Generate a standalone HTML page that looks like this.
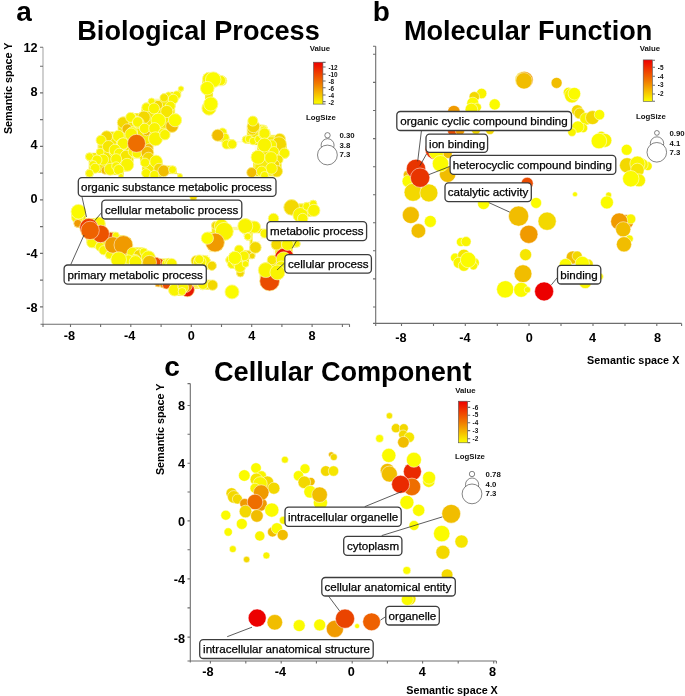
<!DOCTYPE html>
<html><head><meta charset="utf-8"><style>
html,body{margin:0;padding:0;background:#fff;width:685px;height:696px;overflow:hidden}
svg{display:block;font-family:"Liberation Sans",sans-serif;will-change:transform}
.t{font-weight:bold;font-size:27.1px;fill:#000}
.pl{font-weight:bold;font-size:28px;fill:#000}
.ax{stroke:#6e6e6e;stroke-width:1.1;fill:none}
.axl{stroke:#c4c4c4;stroke-width:1.6;fill:none}
.tk{font-weight:bold;font-size:12.7px;fill:#000}
.al{font-weight:bold;font-size:10.8px;fill:#000}
.lg{font-weight:bold;font-size:7.8px;fill:#111}
.cb{font-weight:bold;font-size:6.4px;fill:#111}
.lb rect{fill:#fff;stroke:#3c3c3c;stroke-width:1.3}
.lb text{font-size:11.6px;fill:#000;stroke:#000;stroke-width:0.25px}
.ld{stroke:#333;stroke-width:0.8;fill:none}
.bub circle{stroke:#fff;stroke-width:0.6;stroke-opacity:0.85}
</style></head><body>
<svg width="685" height="696" viewBox="0 0 685 696">
<defs>
<linearGradient id="cg" x1="0" y1="0" x2="0" y2="1">
<stop offset="0" stop-color="#ee0000"/>
<stop offset="0.5" stop-color="#f07800"/>
<stop offset="1" stop-color="#fbff00"/>
</linearGradient>
<filter id="cl" x="-5%" y="-5%" width="110%" height="110%">
<feMorphology in="SourceAlpha" operator="dilate" radius="1.5" result="d"/>
<feMorphology in="d" operator="erode" radius="1.5" result="e"/>
<feFlood flood-color="#f6ea00"/>
<feComposite operator="in" in2="e"/>
</filter>
</defs>

<!-- ============ PANEL A ============ -->
<text class="pl" x="16.2" y="20.7">a</text>
<text class="t" x="77.3" y="40.1">Biological Process</text>
<text class="al" transform="translate(12.4,88.3) rotate(-90)" text-anchor="middle">Semantic space Y</text>
<g id="axA">
<line class="axl" x1="43" y1="47.3" x2="43" y2="325"/>
<path class="ax" d="M40,47.3H43 M40,66.2H43 M40,92.9H43 M40,119.6H43 M40,146.4H43 M40,173.1H43 M40,199.9H43 M40,226.6H43 M40,253.4H43 M40,280.1H43 M40,306.9H43"/>
<path class="ax" d="M40.5,324.3H349.5 M43,324.3V327 M70.5,324.3V327 M100.6,324.3V327 M130.8,324.3V327 M161.1,324.3V327 M191.3,324.3V327 M221.5,324.3V327 M251.7,324.3V327 M281.9,324.3V327 M312.1,324.3V327 M342.4,324.3V327 M349.5,324.3V327"/>
</g>
<g class="tk" text-anchor="end">
<text x="37.6" y="52.4">12</text>
<text x="37.6" y="95.8">8</text>
<text x="37.6" y="149">4</text>
<text x="37.6" y="203">0</text>
<text x="37.6" y="257.8">-4</text>
<text x="37.6" y="312.2">-8</text>
</g>
<g class="tk" text-anchor="middle">
<text x="69.3" y="340">-8</text>
<text x="129.6" y="340">-4</text>
<text x="191.3" y="340">0</text>
<text x="251.7" y="340">4</text>
<text x="312.1" y="340">8</text>
</g>
<!-- legend A -->
<text class="lg" x="309.7" y="51">Value</text>
<rect x="313.5" y="62.2" width="9.4" height="41.9" fill="url(#cg)" stroke="#555" stroke-width="0.6"/>
<path class="ax" stroke-width="0.5" d="M322.9,62.4H325.6 M322.9,67H325.6 M322.9,74.1H325.6 M322.9,81H325.6 M322.9,87.8H325.6 M322.9,95H325.6 M322.9,101.6H325.6 M322.9,104H325.6"/>
<g class="cb">
<text x="328.4" y="69.7">-12</text>
<text x="328.4" y="76.7">-10</text>
<text x="328.4" y="83.8">-8</text>
<text x="328.4" y="90.7">-6</text>
<text x="328.4" y="97.9">-4</text>
<text x="328.4" y="104.7">-2</text>
</g>
<text class="lg" x="305.9" y="120.3">LogSize</text>
<g fill="#fff" stroke="#333" stroke-width="0.6">
<circle cx="327.5" cy="135.3" r="2.7"/>
<circle cx="327.6" cy="145.2" r="6.5"/>
<circle cx="327.4" cy="155" r="9.9"/>
</g>
<g class="lg">
<text x="339.5" y="138.4">0.30</text>
<text x="339.5" y="147.8">3.8</text>
<text x="339.5" y="157.1">7.3</text>
</g>

<g filter="url(#cl)"><use href="#bubA"/></g>
<g class="bub" id="bubA">
<circle cx="181.0" cy="88.7" r="2.7" fill="#f9f400"/>
<circle cx="176.7" cy="95.1" r="4.2" fill="#f9f400"/>
<circle cx="168.5" cy="95.1" r="3.2" fill="#f9f400"/>
<circle cx="173.2" cy="99.2" r="5.0" fill="#f9f400"/>
<circle cx="164.1" cy="97.8" r="4.2" fill="#f6e600"/>
<circle cx="151.6" cy="101.5" r="3.5" fill="#f9f400"/>
<circle cx="158.0" cy="105.0" r="4.6" fill="#f3d800"/>
<circle cx="170.3" cy="106.2" r="5.0" fill="#f9f400"/>
<circle cx="146.4" cy="107.4" r="4.6" fill="#f9f400"/>
<circle cx="154.0" cy="108.5" r="5.5" fill="#f9f400"/>
<circle cx="166.8" cy="111.5" r="6.1" fill="#f6e600"/>
<circle cx="144.0" cy="117.3" r="6.3" fill="#f3d800"/>
<circle cx="131.8" cy="117.3" r="4.6" fill="#f9f400"/>
<circle cx="172.0" cy="126.1" r="6.3" fill="#f1bd00"/>
<circle cx="175.0" cy="120.2" r="6.6" fill="#fbfb00"/>
<circle cx="158.3" cy="120.5" r="7.3" fill="#fbfb00"/>
<circle cx="138.2" cy="122.6" r="5.8" fill="#f9f400"/>
<circle cx="123.1" cy="122.6" r="5.8" fill="#f3d800"/>
<circle cx="130.7" cy="117.4" r="5.0" fill="#f9f400"/>
<circle cx="137.7" cy="122.0" r="5.2" fill="#f9f400"/>
<circle cx="127.2" cy="129.0" r="5.2" fill="#f1bd00"/>
<circle cx="146.4" cy="131.9" r="4.0" fill="#f1bd00"/>
<circle cx="144.6" cy="128.4" r="5.2" fill="#f9f400"/>
<circle cx="154.5" cy="128.4" r="5.8" fill="#f9f400"/>
<circle cx="163.3" cy="133.1" r="5.0" fill="#f9f400"/>
<circle cx="132.3" cy="131.9" r="5.2" fill="#f9f400"/>
<circle cx="131.2" cy="134.3" r="6.3" fill="#f9f400"/>
<circle cx="106.7" cy="136.6" r="5.8" fill="#f3d800"/>
<circle cx="101.1" cy="140.2" r="5.0" fill="#f9f400"/>
<circle cx="118.4" cy="136.1" r="5.8" fill="#f9f400"/>
<circle cx="122.2" cy="144.2" r="6.0" fill="#f9f400"/>
<circle cx="123.1" cy="143.6" r="5.8" fill="#f9f400"/>
<circle cx="108.5" cy="146.6" r="6.1" fill="#f6e600"/>
<circle cx="100.1" cy="152.2" r="4.0" fill="#f9f400"/>
<circle cx="114.2" cy="152.2" r="5.0" fill="#f9f400"/>
<circle cx="114.9" cy="150.0" r="5.8" fill="#f9f400"/>
<circle cx="119.3" cy="153.4" r="5.2" fill="#f9f400"/>
<circle cx="126.2" cy="156.2" r="6.0" fill="#f6e600"/>
<circle cx="103.1" cy="159.7" r="5.5" fill="#f9f400"/>
<circle cx="116.2" cy="159.2" r="5.5" fill="#f9f400"/>
<circle cx="127.2" cy="164.8" r="6.5" fill="#f9f400"/>
<circle cx="89.5" cy="156.7" r="4.0" fill="#f9f400"/>
<circle cx="97.0" cy="160.0" r="5.0" fill="#f9f400"/>
<circle cx="93.0" cy="164.5" r="4.0" fill="#f9f400"/>
<circle cx="95.1" cy="168.3" r="5.0" fill="#f9f400"/>
<circle cx="89.5" cy="173.3" r="4.0" fill="#f9f400"/>
<circle cx="105.1" cy="170.3" r="4.0" fill="#f1bd00"/>
<circle cx="110.2" cy="169.3" r="6.0" fill="#f9f400"/>
<circle cx="116.2" cy="166.3" r="4.5" fill="#f9f400"/>
<circle cx="118.8" cy="169.7" r="5.2" fill="#f9f400"/>
<circle cx="134.3" cy="153.2" r="4.5" fill="#f9f400"/>
<circle cx="133.4" cy="151.6" r="5.2" fill="#f9f400"/>
<circle cx="136.9" cy="153.4" r="4.8" fill="#f9f400"/>
<circle cx="148.7" cy="148.2" r="4.5" fill="#f1bd00"/>
<circle cx="147.4" cy="152.8" r="6.3" fill="#f1bd00"/>
<circle cx="148.5" cy="158.0" r="5.8" fill="#f3d800"/>
<circle cx="145.0" cy="162.7" r="4.6" fill="#f9f400"/>
<circle cx="155.5" cy="138.8" r="7.0" fill="#f9f400"/>
<circle cx="164.9" cy="134.7" r="5.2" fill="#f9f400"/>
<circle cx="156.1" cy="161.5" r="6.3" fill="#f9f400"/>
<circle cx="159.0" cy="168.5" r="5.2" fill="#f3d800"/>
<circle cx="163.7" cy="170.9" r="5.8" fill="#f1bd00"/>
<circle cx="172.5" cy="169.7" r="4.0" fill="#f9f400"/>
<circle cx="146.2" cy="173.2" r="4.6" fill="#f9f400"/>
<circle cx="154.4" cy="175.0" r="4.6" fill="#f9f400"/>
<circle cx="180.0" cy="176.0" r="2.5" fill="#f9f400"/>
<circle cx="121.0" cy="176.0" r="2.5" fill="#f9f400"/>
<circle cx="136.5" cy="143.3" r="9.0" fill="#ee6e00"/>
<circle cx="209.0" cy="78.8" r="6.5" fill="#f9f400"/>
<circle cx="221.8" cy="80.8" r="5.0" fill="#f9f400"/>
<circle cx="220.5" cy="80.5" r="5.1" fill="#f9f400"/>
<circle cx="213.2" cy="79.7" r="7.8" fill="#fbfb00"/>
<circle cx="207.3" cy="88.2" r="6.8" fill="#fbfb00"/>
<circle cx="209.0" cy="108.1" r="7.1" fill="#f9f400"/>
<circle cx="210.8" cy="104.0" r="7.1" fill="#fbfb00"/>
<circle cx="252.3" cy="129.9" r="5.2" fill="#f3d800"/>
<circle cx="253.4" cy="126.4" r="6.3" fill="#f3d800"/>
<circle cx="252.8" cy="121.1" r="5.0" fill="#f9f400"/>
<circle cx="222.5" cy="132.3" r="4.3" fill="#f9f400"/>
<circle cx="224.9" cy="137.5" r="4.3" fill="#f9f400"/>
<circle cx="217.8" cy="135.3" r="6.0" fill="#f1bd00"/>
<circle cx="226.6" cy="144.5" r="4.6" fill="#f9f400"/>
<circle cx="232.2" cy="144.2" r="4.6" fill="#f9f400"/>
<circle cx="246.0" cy="139.6" r="3.8" fill="#f9f400"/>
<circle cx="249.0" cy="139.0" r="3.8" fill="#f9f400"/>
<circle cx="253.0" cy="141.1" r="3.8" fill="#f9f400"/>
<circle cx="258.7" cy="139.2" r="4.0" fill="#f9f400"/>
<circle cx="263.6" cy="128.9" r="4.0" fill="#f9f400"/>
<circle cx="264.2" cy="133.6" r="6.1" fill="#f9f400"/>
<circle cx="263.9" cy="129.9" r="4.0" fill="#f9f400"/>
<circle cx="264.5" cy="133.4" r="5.5" fill="#f9f400"/>
<circle cx="279.7" cy="139.2" r="5.8" fill="#f3d800"/>
<circle cx="279.0" cy="144.3" r="7.5" fill="#f3d800"/>
<circle cx="271.5" cy="145.0" r="5.2" fill="#f9f400"/>
<circle cx="264.5" cy="145.0" r="7.0" fill="#f9f400"/>
<circle cx="284.4" cy="153.2" r="5.2" fill="#f9f400"/>
<circle cx="273.9" cy="151.5" r="5.0" fill="#f9f400"/>
<circle cx="278.5" cy="159.6" r="4.6" fill="#f6e600"/>
<circle cx="275.0" cy="164.3" r="4.6" fill="#f3d800"/>
<circle cx="258.1" cy="157.3" r="7.0" fill="#f9f400"/>
<circle cx="271.0" cy="157.9" r="6.3" fill="#f9f400"/>
<circle cx="276.8" cy="171.3" r="5.8" fill="#f3d800"/>
<circle cx="271.5" cy="168.4" r="5.8" fill="#f9f400"/>
<circle cx="261.6" cy="171.3" r="5.2" fill="#f9f400"/>
<circle cx="264.5" cy="175.4" r="4.0" fill="#f9f400"/>
<circle cx="251.7" cy="172.5" r="5.0" fill="#f1bd00"/>
<circle cx="77.3" cy="217.5" r="5.8" fill="#f9f400"/>
<circle cx="77.8" cy="223.4" r="4.0" fill="#f09a00"/>
<circle cx="78.4" cy="211.7" r="7.3" fill="#fbfb00"/>
<circle cx="98.9" cy="223.4" r="6.3" fill="#f9f400"/>
<circle cx="91.9" cy="242.6" r="5.2" fill="#f9f400"/>
<circle cx="100.0" cy="246.7" r="4.6" fill="#f9f400"/>
<circle cx="88.9" cy="227.5" r="9.2" fill="#ec3c00"/>
<circle cx="110.5" cy="236.2" r="4.0" fill="#ea4c00"/>
<circle cx="100.6" cy="233.9" r="8.8" fill="#ec5200"/>
<circle cx="90.1" cy="230.4" r="9.2" fill="#ee6200"/>
<circle cx="115.8" cy="235.6" r="3.5" fill="#f9f400"/>
<circle cx="103.5" cy="250.2" r="4.6" fill="#f9f400"/>
<circle cx="109.4" cy="254.9" r="4.0" fill="#f9f400"/>
<circle cx="112.9" cy="245.0" r="8.2" fill="#f09a00"/>
<circle cx="123.4" cy="245.0" r="9.4" fill="#f09a00"/>
<circle cx="140.9" cy="252.6" r="5.0" fill="#f9f400"/>
<circle cx="132.7" cy="253.1" r="5.8" fill="#f9f400"/>
<circle cx="139.0" cy="254.9" r="5.2" fill="#f3d800"/>
<circle cx="143.7" cy="251.9" r="4.0" fill="#f9f400"/>
<circle cx="135.1" cy="259.6" r="5.2" fill="#f9f400"/>
<circle cx="128.5" cy="259.5" r="4.6" fill="#f9f400"/>
<circle cx="135.5" cy="261.9" r="6.3" fill="#f9f400"/>
<circle cx="118.7" cy="259.6" r="7.8" fill="#f9f400"/>
<circle cx="148.4" cy="257.8" r="7.0" fill="#f9f400"/>
<circle cx="159.5" cy="263.0" r="4.6" fill="#ea4c00"/>
<circle cx="155.8" cy="262.3" r="5.0" fill="#ea4c00"/>
<circle cx="165.9" cy="263.6" r="4.0" fill="#f9f400"/>
<circle cx="168.7" cy="262.3" r="4.0" fill="#f9f400"/>
<circle cx="171.7" cy="263.6" r="5.2" fill="#f9f400"/>
<circle cx="149.5" cy="262.4" r="7.0" fill="#f1bd00"/>
<circle cx="158.2" cy="283.4" r="3.5" fill="#f09a00"/>
<circle cx="163.5" cy="284.0" r="4.0" fill="#f09a00"/>
<circle cx="166.4" cy="285.1" r="4.0" fill="#ea4c00"/>
<circle cx="174.6" cy="289.9" r="6.1" fill="#f9f400"/>
<circle cx="187.4" cy="289.8" r="7.0" fill="#e81800"/>
<circle cx="185.0" cy="285.1" r="7.5" fill="#f09a00"/>
<circle cx="183.4" cy="287.6" r="5.2" fill="#f9f400"/>
<circle cx="182.1" cy="291.5" r="4.0" fill="#f9f400"/>
<circle cx="196.7" cy="262.3" r="4.6" fill="#f9f400"/>
<circle cx="203.7" cy="262.3" r="7.0" fill="#f9f400"/>
<circle cx="211.9" cy="265.8" r="4.6" fill="#f3d800"/>
<circle cx="196.2" cy="260.7" r="5.2" fill="#f3d800"/>
<circle cx="199.7" cy="261.9" r="6.3" fill="#f9f400"/>
<circle cx="202.7" cy="285.2" r="4.6" fill="#f9f400"/>
<circle cx="203.1" cy="283.9" r="5.5" fill="#f9f400"/>
<circle cx="212.5" cy="285.1" r="5.2" fill="#f3d800"/>
<circle cx="193.4" cy="197.5" r="3.5" fill="#f3d800"/>
<circle cx="215.5" cy="225.5" r="4.0" fill="#f3d800"/>
<circle cx="221.4" cy="226.1" r="7.0" fill="#f9f400"/>
<circle cx="224.3" cy="231.4" r="9.0" fill="#f9f400"/>
<circle cx="215.0" cy="242.5" r="9.4" fill="#f09a00"/>
<circle cx="207.4" cy="238.2" r="6.1" fill="#fbfb00"/>
<circle cx="254.5" cy="227.1" r="6.0" fill="#f9f400"/>
<circle cx="245.3" cy="226.1" r="7.5" fill="#f9f400"/>
<circle cx="248.4" cy="236.4" r="4.0" fill="#f9f400"/>
<circle cx="247.7" cy="236.6" r="3.5" fill="#f9f400"/>
<circle cx="255.4" cy="247.5" r="5.8" fill="#f3d800"/>
<circle cx="248.1" cy="254.8" r="4.2" fill="#f3d800"/>
<circle cx="252.2" cy="255.9" r="3.0" fill="#f3d800"/>
<circle cx="240.4" cy="273.2" r="3.8" fill="#f3d800"/>
<circle cx="239.0" cy="249.7" r="4.6" fill="#f9f400"/>
<circle cx="229.7" cy="260.0" r="4.0" fill="#f9f400"/>
<circle cx="232.0" cy="264.0" r="4.5" fill="#f9f400"/>
<circle cx="244.0" cy="256.0" r="5.0" fill="#f9f400"/>
<circle cx="237.0" cy="262.0" r="5.5" fill="#f9f400"/>
<circle cx="240.0" cy="267.0" r="5.5" fill="#f9f400"/>
<circle cx="245.5" cy="264.0" r="3.3" fill="#f9f400"/>
<circle cx="234.9" cy="257.9" r="6.6" fill="#fbfb00"/>
<circle cx="199.2" cy="259.4" r="4.5" fill="#f9f400"/>
<circle cx="232.0" cy="291.9" r="7.0" fill="#fbfb00"/>
<circle cx="291.6" cy="207.4" r="7.8" fill="#f3d800"/>
<circle cx="300.4" cy="215.0" r="7.5" fill="#f9f400"/>
<circle cx="306.8" cy="206.3" r="4.0" fill="#f9f400"/>
<circle cx="313.2" cy="203.9" r="3.8" fill="#f9f400"/>
<circle cx="313.8" cy="210.4" r="6.1" fill="#f9f400"/>
<circle cx="273.5" cy="218.5" r="5.2" fill="#f9f400"/>
<circle cx="302.7" cy="218.5" r="5.2" fill="#f9f400"/>
<circle cx="264.7" cy="233.5" r="4.5" fill="#f9f400"/>
<circle cx="284.4" cy="257.7" r="9.6" fill="#e81800"/>
<circle cx="276.6" cy="244.5" r="5.5" fill="#f3d800"/>
<circle cx="287.5" cy="244.5" r="6.0" fill="#f9f400"/>
<circle cx="296.8" cy="243.8" r="3.5" fill="#f9f400"/>
<circle cx="269.6" cy="281.0" r="9.9" fill="#ea4c00"/>
<circle cx="272.0" cy="260.0" r="4.8" fill="#f6e600"/>
<circle cx="283.6" cy="259.3" r="7.5" fill="#f9f400"/>
<circle cx="281.3" cy="267.0" r="6.0" fill="#f9f400"/>
<circle cx="265.8" cy="270.1" r="7.5" fill="#f9f400"/>
<circle cx="277.4" cy="272.4" r="7.5" fill="#f9f400"/>
</g>

<!-- ============ PANEL B ============ -->
<text class="pl" x="372.7" y="20.7">b</text>
<text class="t" x="403.9" y="39.7">Molecular Function</text>
<g>
<path class="ax" d="M375.7,46.3V326 M373,46.3H375.7 M373,54.3H375.7 M373,82.4H375.7 M373,110.5H375.7 M373,138.6H375.7 M373,166.7H375.7 M373,194.8H375.7 M373,222.7H375.7 M373,250.8H375.7 M373,278.9H375.7 M373,307H375.7"/>
<path class="ax" d="M373,323.4H681.6 M401.5,323.4V326 M433.5,323.4V326 M465.3,323.4V326 M497.3,323.4V326 M529,323.4V326 M561,323.4V326 M593,323.4V326 M625,323.4V326 M656.8,323.4V326 M681.6,323.4V326"/>
</g>
<g class="tk" text-anchor="middle">
<text x="401" y="341.9">-8</text>
<text x="465" y="341.9">-4</text>
<text x="529.4" y="341.9">0</text>
<text x="592.6" y="341.9">4</text>
<text x="657.5" y="341.9">8</text>
</g>
<text class="al" x="587" y="363.7" textLength="92.4">Semantic space X</text>
<!-- legend B -->
<text class="lg" x="639.7" y="51">Value</text>
<rect x="643.2" y="59.9" width="9.2" height="41.6" fill="url(#cg)" stroke="#555" stroke-width="0.6"/>
<path class="ax" stroke-width="0.5" d="M652.4,60.2H655 M652.4,67.3H655 M652.4,76.3H655 M652.4,85.2H655 M652.4,94H655 M652.4,101.3H655"/>
<g class="cb">
<text x="657.8" y="69.7">-5</text>
<text x="657.8" y="78.6">-4</text>
<text x="657.8" y="87">-3</text>
<text x="657.8" y="96">-2</text>
</g>
<text class="lg" x="635.9" y="119.4">LogSize</text>
<g fill="#fff" stroke="#333" stroke-width="0.6">
<circle cx="656.9" cy="132.9" r="2.4"/>
<circle cx="657" cy="143.5" r="6.7"/>
<circle cx="656.8" cy="152.3" r="9.8"/>
</g>
<g class="lg">
<text x="669.5" y="136.4">0.90</text>
<text x="669.5" y="146">4.1</text>
<text x="669.5" y="155">7.3</text>
</g>

<g class="bub" id="bubB">
<circle cx="435.0" cy="149.5" r="9.9" fill="#e83400"/>
<circle cx="437.0" cy="151.5" r="8.3" fill="#fbfb00"/>
<circle cx="447.7" cy="154.0" r="4.5" fill="#f1bd00"/>
<circle cx="407.8" cy="174.8" r="4.5" fill="#f1bd00"/>
<circle cx="408.4" cy="181.2" r="6.3" fill="#fbfb00"/>
<circle cx="416.0" cy="168.9" r="9.7" fill="#e83400"/>
<circle cx="413.1" cy="192.3" r="9.0" fill="#f3d800"/>
<circle cx="428.9" cy="192.9" r="9.0" fill="#f3d800"/>
<circle cx="420.1" cy="177.7" r="9.7" fill="#e83400"/>
<circle cx="447.6" cy="174.2" r="8.2" fill="#f1bd00"/>
<circle cx="440.5" cy="163.7" r="8.2" fill="#fbfb00"/>
<circle cx="410.8" cy="215.1" r="8.5" fill="#f1bd00"/>
<circle cx="430.3" cy="221.4" r="6.0" fill="#fbfb00"/>
<circle cx="418.4" cy="230.9" r="7.3" fill="#f1bd00"/>
<circle cx="453.1" cy="130.7" r="5.5" fill="#ea4c00"/>
<circle cx="460.0" cy="131.0" r="4.5" fill="#f09a00"/>
<circle cx="476.0" cy="130.0" r="4.5" fill="#f3d800"/>
<circle cx="490.0" cy="130.0" r="4.5" fill="#f3d800"/>
<circle cx="523.6" cy="79.9" r="8.6" fill="#f6e600"/>
<circle cx="524.6" cy="80.0" r="8.6" fill="#f09a00"/>
<circle cx="524.0" cy="80.8" r="8.2" fill="#f1bd00"/>
<circle cx="481.6" cy="93.5" r="5.2" fill="#f9f400"/>
<circle cx="474.3" cy="96.8" r="5.2" fill="#f3d800"/>
<circle cx="472.8" cy="103.2" r="6.0" fill="#fbfb00"/>
<circle cx="494.7" cy="104.4" r="5.6" fill="#fbfb00"/>
<circle cx="477.2" cy="107.3" r="4.2" fill="#f9f400"/>
<circle cx="471.4" cy="109.5" r="6.3" fill="#f9f400"/>
<circle cx="453.9" cy="111.7" r="6.3" fill="#f09a00"/>
<circle cx="556.6" cy="82.9" r="5.5" fill="#f1bd00"/>
<circle cx="568.5" cy="92.5" r="5.2" fill="#f9f400"/>
<circle cx="572.0" cy="95.4" r="7.5" fill="#f9f400"/>
<circle cx="574.4" cy="93.7" r="6.3" fill="#fbfb00"/>
<circle cx="577.3" cy="110.6" r="5.8" fill="#f3d800"/>
<circle cx="579.6" cy="113.5" r="5.5" fill="#f3d800"/>
<circle cx="586.1" cy="118.8" r="6.3" fill="#f9f400"/>
<circle cx="592.5" cy="117.6" r="7.0" fill="#f3d800"/>
<circle cx="599.5" cy="114.7" r="5.2" fill="#fbfb00"/>
<circle cx="583.1" cy="128.1" r="4.6" fill="#f9f400"/>
<circle cx="577.9" cy="127.0" r="6.1" fill="#fbfb00"/>
<circle cx="572.0" cy="132.2" r="4.2" fill="#f9f400"/>
<circle cx="601.2" cy="135.7" r="4.5" fill="#f9f400"/>
<circle cx="604.8" cy="140.4" r="7.0" fill="#f9f400"/>
<circle cx="598.9" cy="141.0" r="7.8" fill="#fbfb00"/>
<circle cx="626.7" cy="149.8" r="5.5" fill="#fbfb00"/>
<circle cx="647.7" cy="166.1" r="4.5" fill="#f9f400"/>
<circle cx="642.1" cy="164.5" r="6.0" fill="#f9f400"/>
<circle cx="627.1" cy="165.3" r="7.6" fill="#f3d800"/>
<circle cx="637.4" cy="163.7" r="7.6" fill="#f9f400"/>
<circle cx="637.4" cy="170.0" r="6.8" fill="#f6e600"/>
<circle cx="639.0" cy="180.3" r="6.5" fill="#f9f400"/>
<circle cx="630.8" cy="178.7" r="8.2" fill="#fbfb00"/>
<circle cx="608.6" cy="195.0" r="3.0" fill="#f9f400"/>
<circle cx="606.9" cy="202.4" r="6.5" fill="#fbfb00"/>
<circle cx="626.0" cy="222.0" r="7.5" fill="#f09a00"/>
<circle cx="630.8" cy="219.0" r="5.0" fill="#f9f400"/>
<circle cx="619.2" cy="221.4" r="8.5" fill="#f09a00"/>
<circle cx="623.2" cy="229.3" r="7.6" fill="#f1bd00"/>
<circle cx="629.5" cy="238.7" r="3.8" fill="#f9f400"/>
<circle cx="624.0" cy="244.3" r="7.6" fill="#f1bd00"/>
<circle cx="527.2" cy="183.3" r="6.0" fill="#ea4c00"/>
<circle cx="483.6" cy="203.6" r="6.0" fill="#fbfb00"/>
<circle cx="536.1" cy="202.9" r="5.5" fill="#fbfb00"/>
<circle cx="575.0" cy="194.3" r="2.5" fill="#fbfb00"/>
<circle cx="518.6" cy="216.1" r="10.1" fill="#f1bd00"/>
<circle cx="547.1" cy="221.2" r="9.1" fill="#f3d800"/>
<circle cx="528.8" cy="234.3" r="9.1" fill="#f09a00"/>
<circle cx="525.6" cy="254.7" r="6.0" fill="#f6e600"/>
<circle cx="523.0" cy="273.7" r="8.9" fill="#f1bd00"/>
<circle cx="505.2" cy="289.3" r="8.6" fill="#fbfb00"/>
<circle cx="521.2" cy="289.8" r="7.5" fill="#fbfb00"/>
<circle cx="527.4" cy="289.8" r="3.2" fill="#f9f400"/>
<circle cx="544.1" cy="291.4" r="9.5" fill="#ec0000"/>
<circle cx="461.0" cy="242.0" r="4.6" fill="#fbfb00"/>
<circle cx="466.1" cy="241.6" r="5.0" fill="#f9f400"/>
<circle cx="455.1" cy="257.7" r="4.6" fill="#fbfb00"/>
<circle cx="463.9" cy="255.5" r="6.3" fill="#f6e600"/>
<circle cx="458.8" cy="262.8" r="5.6" fill="#f9f400"/>
<circle cx="463.9" cy="265.7" r="5.6" fill="#f9f400"/>
<circle cx="474.1" cy="262.8" r="5.2" fill="#f9f400"/>
<circle cx="473.4" cy="265.7" r="4.2" fill="#f9f400"/>
<circle cx="468.2" cy="259.9" r="7.8" fill="#fbfb00"/>
<circle cx="572.8" cy="257.5" r="6.6" fill="#f1bd00"/>
<circle cx="577.2" cy="256.0" r="5.0" fill="#f3d800"/>
<circle cx="565.5" cy="264.8" r="6.3" fill="#fbfb00"/>
<circle cx="588.2" cy="264.1" r="5.0" fill="#f6e600"/>
<circle cx="582.3" cy="263.4" r="7.1" fill="#fbfb00"/>
<circle cx="585.3" cy="282.3" r="6.3" fill="#f9f400"/>
<circle cx="599.9" cy="276.5" r="3.5" fill="#f9f400"/>
</g>

<!-- ============ PANEL C ============ -->
<text class="pl" x="164.2" y="375.5">c</text>
<text class="t" x="214" y="380.6">Cellular Component</text>
<text class="al" transform="translate(163.9,429.3) rotate(-90)" text-anchor="middle">Semantic space Y</text>
<g>
<path class="ax" d="M190.3,383.6V662.5 M187.5,383.6H190.3 M187.5,405.5H190.3 M187.5,434.3H190.3 M187.5,463.2H190.3 M187.5,492H190.3 M187.5,520.9H190.3 M187.5,549.8H190.3 M187.5,578.9H190.3 M187.5,607.9H190.3 M187.5,637.1H190.3"/>
<path class="ax" d="M187.5,661H496.4 M210.4,661V663.6 M245.8,661V663.6 M281.2,661V663.6 M316.4,661V663.6 M352.2,661V663.6 M387.4,661V663.6 M422.6,661V663.6 M458.2,661V663.6 M493.7,661V663.6 M496.4,661V663.6"/>
</g>
<g class="tk" text-anchor="end">
<text x="185" y="410">8</text>
<text x="185" y="467.7">4</text>
<text x="185" y="525.5">0</text>
<text x="185" y="584">-4</text>
<text x="185" y="642.6">-8</text>
</g>
<g class="tk" text-anchor="middle">
<text x="208" y="676.4">-8</text>
<text x="280.5" y="676.4">-4</text>
<text x="351.2" y="676.4">0</text>
<text x="422.4" y="676.4">4</text>
<text x="492.6" y="676.4">8</text>
</g>
<text class="al" x="406.3" y="694" textLength="91.5">Semantic space X</text>
<!-- legend C -->
<text class="lg" x="455.2" y="392.8">Value</text>
<rect x="458.4" y="401.2" width="9.2" height="41.6" fill="url(#cg)" stroke="#555" stroke-width="0.6"/>
<path class="ax" stroke-width="0.5" d="M467.6,401.5H470.2 M467.6,407.4H470.2 M467.6,415.2H470.2 M467.6,422.8H470.2 M467.6,430.6H470.2 M467.6,438.8H470.2 M467.6,442.6H470.2"/>
<g class="cb">
<text x="472.6" y="409.5">-6</text>
<text x="472.6" y="417.4">-5</text>
<text x="472.6" y="425">-4</text>
<text x="472.6" y="432.9">-3</text>
<text x="472.6" y="441.2">-2</text>
</g>
<text class="lg" x="455" y="459">LogSize</text>
<g fill="#fff" stroke="#333" stroke-width="0.6">
<circle cx="472" cy="474" r="2.7"/>
<circle cx="472.1" cy="484.6" r="6.6"/>
<circle cx="472" cy="493.9" r="9.9"/>
</g>
<g class="lg">
<text x="485.6" y="477.2">0.78</text>
<text x="485.6" y="486.9">4.0</text>
<text x="485.6" y="496.2">7.3</text>
</g>

<g class="bub" id="bubC">
<circle cx="284.9" cy="459.7" r="3.5" fill="#f9f400"/>
<circle cx="256.0" cy="468.0" r="5.3" fill="#fbfb00"/>
<circle cx="244.3" cy="475.5" r="5.8" fill="#fbfb00"/>
<circle cx="261.5" cy="475.8" r="5.0" fill="#f9f400"/>
<circle cx="256.4" cy="479.4" r="6.3" fill="#f6e600"/>
<circle cx="267.4" cy="482.3" r="6.3" fill="#f3d800"/>
<circle cx="260.1" cy="483.8" r="7.1" fill="#f9f400"/>
<circle cx="273.9" cy="488.2" r="6.0" fill="#f3d800"/>
<circle cx="255.0" cy="488.2" r="5.0" fill="#f9f400"/>
<circle cx="231.6" cy="493.3" r="5.6" fill="#f3d800"/>
<circle cx="233.8" cy="496.9" r="6.3" fill="#f3d800"/>
<circle cx="237.4" cy="499.1" r="5.0" fill="#f3d800"/>
<circle cx="260.1" cy="504.2" r="7.1" fill="#f09a00"/>
<circle cx="244.7" cy="503.5" r="5.0" fill="#f09a00"/>
<circle cx="261.2" cy="492.6" r="7.8" fill="#f09a00"/>
<circle cx="255.0" cy="502.0" r="7.8" fill="#ee6e00"/>
<circle cx="271.8" cy="510.1" r="7.1" fill="#fbfb00"/>
<circle cx="245.5" cy="511.5" r="6.3" fill="#f3d800"/>
<circle cx="256.9" cy="515.9" r="6.3" fill="#f1bd00"/>
<circle cx="225.8" cy="515.2" r="5.0" fill="#fbfb00"/>
<circle cx="241.8" cy="523.9" r="5.5" fill="#fbfb00"/>
<circle cx="228.2" cy="532.0" r="4.2" fill="#fbfb00"/>
<circle cx="259.8" cy="536.0" r="5.1" fill="#f9f400"/>
<circle cx="272.5" cy="532.0" r="5.0" fill="#f1bd00"/>
<circle cx="276.9" cy="528.3" r="5.6" fill="#fbfb00"/>
<circle cx="282.7" cy="534.9" r="5.5" fill="#f1bd00"/>
<circle cx="283.4" cy="520.3" r="4.0" fill="#f9f400"/>
<circle cx="232.8" cy="549.1" r="3.5" fill="#f9f400"/>
<circle cx="246.6" cy="559.5" r="3.2" fill="#f3d800"/>
<circle cx="266.4" cy="555.5" r="3.5" fill="#f9f400"/>
<circle cx="305.0" cy="468.8" r="5.0" fill="#fbfb00"/>
<circle cx="298.5" cy="475.8" r="5.2" fill="#fbfb00"/>
<circle cx="310.9" cy="481.6" r="4.2" fill="#f1bd00"/>
<circle cx="304.3" cy="482.3" r="6.3" fill="#f3d800"/>
<circle cx="310.1" cy="491.8" r="6.3" fill="#fbfb00"/>
<circle cx="320.4" cy="502.8" r="7.1" fill="#fbfb00"/>
<circle cx="319.6" cy="494.7" r="7.8" fill="#f1bd00"/>
<circle cx="325.8" cy="471.0" r="5.3" fill="#f3d800"/>
<circle cx="333.5" cy="471.0" r="5.2" fill="#f6e600"/>
<circle cx="331.3" cy="454.6" r="2.8" fill="#f1bd00"/>
<circle cx="333.8" cy="457.1" r="3.5" fill="#f3d800"/>
<circle cx="389.4" cy="415.8" r="3.2" fill="#f6e600"/>
<circle cx="395.9" cy="428.2" r="4.6" fill="#f3d800"/>
<circle cx="403.8" cy="428.2" r="4.5" fill="#f3d800"/>
<circle cx="403.2" cy="434.6" r="4.6" fill="#f3d800"/>
<circle cx="409.3" cy="437.3" r="5.2" fill="#f6e600"/>
<circle cx="403.4" cy="442.2" r="5.8" fill="#f1bd00"/>
<circle cx="379.6" cy="438.5" r="4.0" fill="#fbfb00"/>
<circle cx="388.8" cy="455.4" r="7.1" fill="#fbfb00"/>
<circle cx="387.4" cy="470.5" r="7.1" fill="#f1bd00"/>
<circle cx="389.4" cy="474.1" r="8.0" fill="#f1bd00"/>
<circle cx="412.4" cy="471.6" r="9.0" fill="#ea2a00"/>
<circle cx="413.9" cy="459.8" r="7.5" fill="#fbfb00"/>
<circle cx="428.8" cy="481.3" r="6.1" fill="#f9f400"/>
<circle cx="429.1" cy="477.7" r="6.5" fill="#fbfb00"/>
<circle cx="411.9" cy="486.9" r="8.8" fill="#ee6e00"/>
<circle cx="400.6" cy="484.3" r="9.0" fill="#ea2a00"/>
<circle cx="406.9" cy="502.4" r="7.0" fill="#fbfb00"/>
<circle cx="418.7" cy="510.3" r="6.1" fill="#fbfb00"/>
<circle cx="414.0" cy="525.5" r="5.0" fill="#fbfb00"/>
<circle cx="451.2" cy="513.8" r="9.4" fill="#f1bd00"/>
<circle cx="441.7" cy="533.6" r="8.2" fill="#fbfb00"/>
<circle cx="461.5" cy="541.5" r="6.6" fill="#f6e600"/>
<circle cx="442.9" cy="552.3" r="7.0" fill="#f3d800"/>
<circle cx="406.8" cy="570.4" r="4.0" fill="#fbfb00"/>
<circle cx="447.1" cy="574.7" r="5.8" fill="#f3d800"/>
<circle cx="409.5" cy="598.7" r="6.5" fill="#f6e600"/>
<circle cx="407.3" cy="599.5" r="6.0" fill="#fbfb00"/>
<circle cx="257.2" cy="618.0" r="9.0" fill="#ec0000"/>
<circle cx="274.8" cy="622.3" r="7.8" fill="#f1bd00"/>
<circle cx="299.2" cy="625.6" r="6.0" fill="#fbfb00"/>
<circle cx="319.7" cy="624.9" r="6.0" fill="#fbfb00"/>
<circle cx="334.9" cy="628.9" r="8.6" fill="#f09a00"/>
<circle cx="345.0" cy="618.7" r="9.6" fill="#ea4400"/>
<circle cx="357.1" cy="626.1" r="2.5" fill="#fbfb00"/>
<circle cx="371.6" cy="621.8" r="8.9" fill="#ee6000"/>
</g>

<!-- ============ LABELS ============ -->
<g id="labels">
<line class="ld" x1="81.9" y1="196.4" x2="86.5" y2="217.0"/>
<line class="ld" x1="101.8" y1="212.3" x2="94.8" y2="220.6"/>
<line class="ld" x1="70.8" y1="264.5" x2="84.0" y2="235.0"/>
<line class="ld" x1="296.4" y1="241.0" x2="292.0" y2="248.5"/>
<line class="ld" x1="285.0" y1="262.6" x2="277.0" y2="270.0"/>
<line class="ld" x1="421.4" y1="131.0" x2="417.7" y2="161.3"/>
<line class="ld" x1="426.5" y1="154.0" x2="419.9" y2="165.7"/>
<line class="ld" x1="449.9" y1="166.4" x2="428.7" y2="174.7"/>
<line class="ld" x1="488.8" y1="202.6" x2="509.7" y2="212.1"/>
<line class="ld" x1="557.3" y1="277.6" x2="551.4" y2="284.8"/>
<line class="ld" x1="364.7" y1="506.7" x2="402.1" y2="491.4"/>
<line class="ld" x1="381.7" y1="535.6" x2="442.3" y2="516.9"/>
<line class="ld" x1="328.6" y1="596.2" x2="339.6" y2="610.9"/>
<line class="ld" x1="385.6" y1="616.7" x2="380.4" y2="620.2"/>
<line class="ld" x1="227.2" y1="636.7" x2="252.0" y2="627.2"/>
<g class="lb">
<rect x="78.3" y="177.6" width="197.7" height="18.7" rx="3.6"/>
<text x="81.0" y="191.1">organic substance metabolic process</text>
<rect x="101.8" y="200.2" width="140.0" height="18.8" rx="3.6"/>
<text x="104.9" y="213.7">cellular metabolic process</text>
<rect x="64.1" y="265.0" width="142.2" height="19.2" rx="3.6"/>
<text x="67.5" y="278.5">primary metabolic process</text>
<rect x="267.0" y="221.7" width="99.6" height="18.9" rx="3.6"/>
<text x="270.1" y="235.2">metabolic process</text>
<rect x="284.8" y="254.6" width="86.6" height="18.6" rx="3.6"/>
<text x="288.0" y="268.1">cellular process</text>
<rect x="396.8" y="111.5" width="174.7" height="19.0" rx="3.6"/>
<text x="400.2" y="125.0">organic cyclic compound binding</text>
<rect x="426.0" y="134.1" width="61.6" height="18.3" rx="3.6"/>
<text x="429.1" y="147.6">ion binding</text>
<rect x="450.1" y="155.4" width="165.7" height="18.9" rx="3.6"/>
<text x="452.8" y="168.9">heterocyclic compound binding</text>
<rect x="445.0" y="182.9" width="86.3" height="18.8" rx="3.6"/>
<text x="447.7" y="196.4">catalytic activity</text>
<rect x="557.5" y="265.4" width="43.3" height="18.6" rx="3.6"/>
<text x="560.3" y="278.9">binding</text>
<rect x="285.0" y="507.2" width="116.2" height="19.1" rx="3.6"/>
<text x="288.0" y="520.7">intracellular organelle</text>
<rect x="343.7" y="536.4" width="58.2" height="19.0" rx="3.6"/>
<text x="346.9" y="549.9">cytoplasm</text>
<rect x="321.8" y="577.5" width="133.5" height="18.5" rx="3.6"/>
<text x="324.4" y="591.0">cellular anatomical entity</text>
<rect x="385.8" y="606.3" width="53.5" height="18.7" rx="3.6"/>
<text x="388.6" y="619.8">organelle</text>
<rect x="199.7" y="639.6" width="173.5" height="18.9" rx="3.6"/>
<text x="203.1" y="653.1">intracellular anatomical structure</text>
</g>
</g>
</svg>
</body></html>
